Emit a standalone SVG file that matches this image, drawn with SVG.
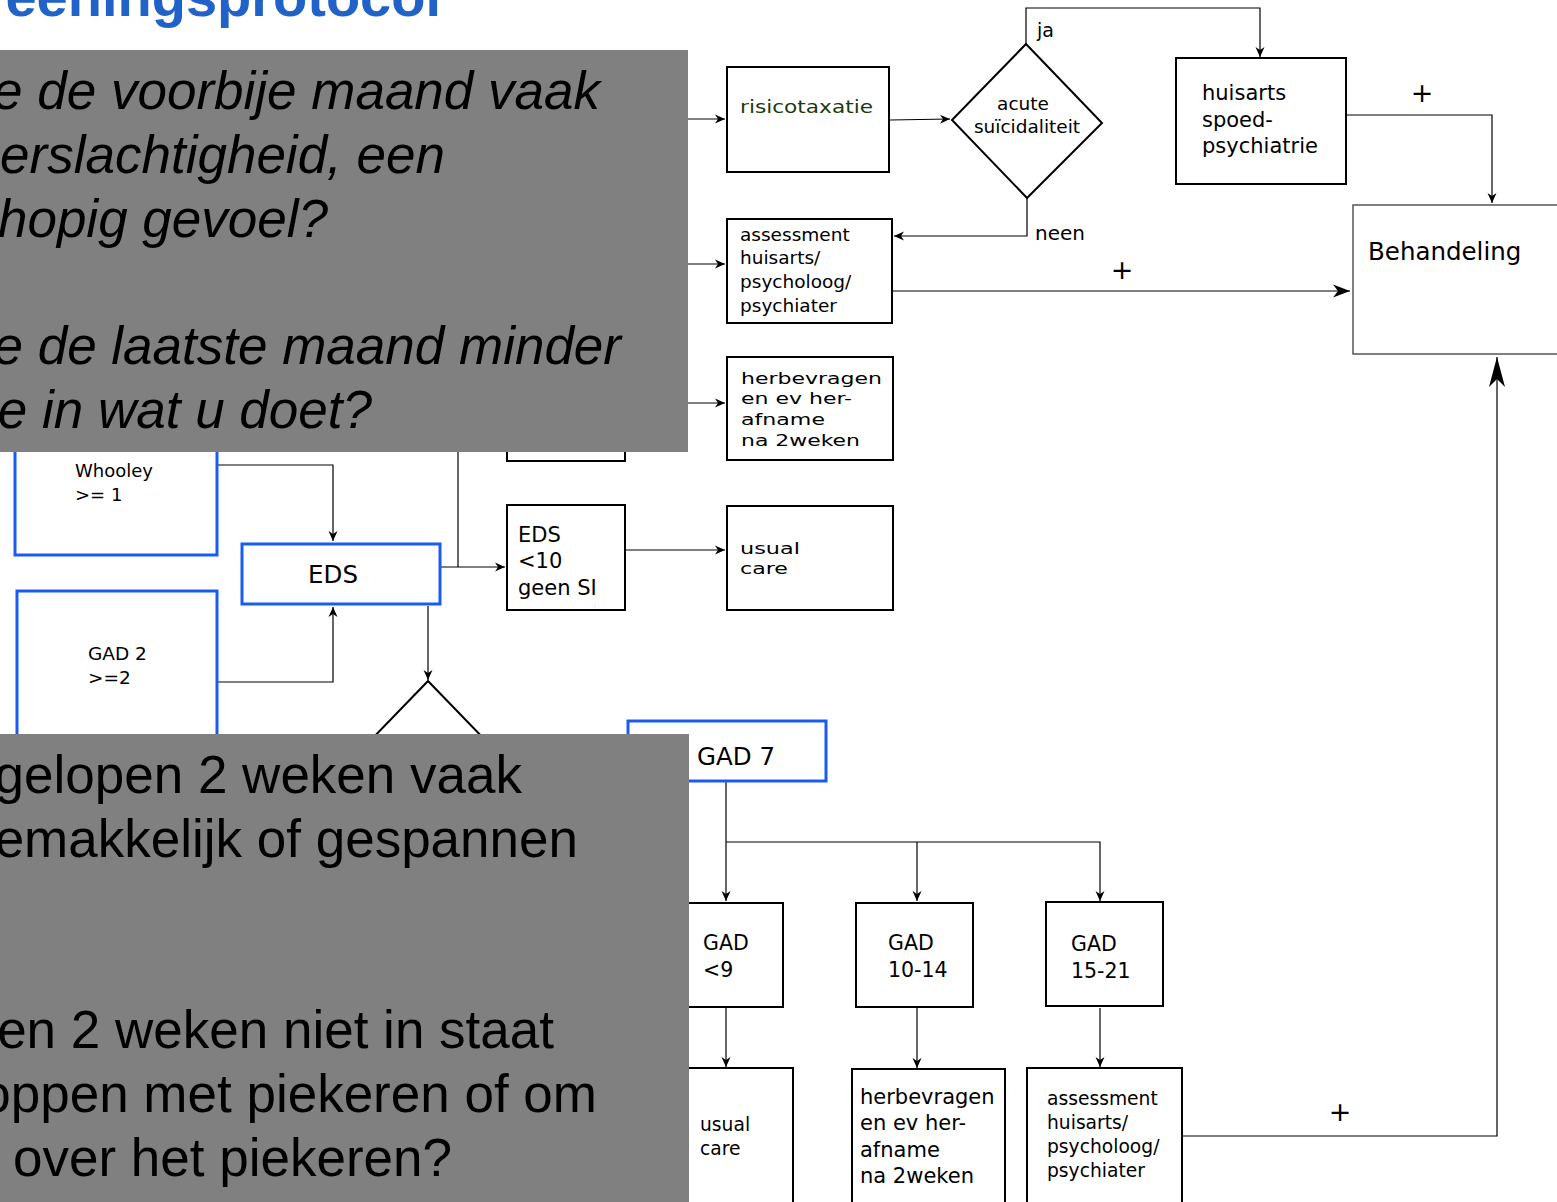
<svg xmlns="http://www.w3.org/2000/svg" width="1557" height="1202" viewBox="0 0 1557 1202">
<defs>
<style>
.box{fill:#fff;stroke:#000;stroke-width:2}
.blue{fill:#fff;stroke:#1a5cf2;stroke-width:3}
.t{font-family:"DejaVu Sans",sans-serif;fill:#000}
.c{fill:none;stroke:#000;stroke-width:1.2}
.g{fill:#808080}
.q{font-family:"Liberation Sans",Arial,sans-serif;font-size:53px;fill:#000;text-anchor:end}
.lbl{font-family:"DejaVu Sans",sans-serif;fill:#000}
</style>
<marker id="a" viewBox="-12 -6 14 12" markerWidth="14" markerHeight="12" refX="0" refY="0" orient="auto" markerUnits="userSpaceOnUse"><path d="M0,0 L-10,-4.5 L-7,0 L-10,4.5 Z" fill="#000"/></marker>
<marker id="b" viewBox="-20 -9 22 18" markerWidth="22" markerHeight="18" refX="0" refY="0" orient="auto" markerUnits="userSpaceOnUse"><path d="M0,0 L-17,-6.5 L-12,0 L-17,6.5 Z" fill="#000"/></marker>
<marker id="c" viewBox="-34 -10 36 20" markerWidth="36" markerHeight="20" refX="0" refY="0" orient="auto" markerUnits="userSpaceOnUse"><path d="M0,0 L-30,-8 L-22,0 L-30,8 Z" fill="#000"/></marker>
</defs>
<rect width="1557" height="1202" fill="#fff"/>
<text x="441" y="16" text-anchor="end" font-family="Liberation Sans, Arial, sans-serif" font-weight="bold" font-size="56" fill="#2162c8">Screeningsprotocol</text>

<g id="connectors">
<path class="c" d="M600,119 H725" marker-end="url(#a)"/>
<path class="c" d="M625,264 H725" marker-end="url(#a)"/>
<path class="c" d="M625,403 H725" marker-end="url(#a)"/>
<path class="c" d="M890,120 L950,119" marker-end="url(#a)"/>
<path class="c" d="M1026,44 V8 H1260 V57" marker-end="url(#a)"/>
<path class="c" d="M1027,198 V236 H894" marker-end="url(#a)"/>
<path class="c" d="M893,291 H1350" marker-end="url(#b)"/>
<path class="c" d="M1347,115 H1492 V203" marker-end="url(#a)"/>
<path class="c" d="M217,465 H333 V541" marker-end="url(#a)"/>
<path class="c" d="M217,682 H333 V607" marker-end="url(#a)"/>
<path class="c" d="M440,567 H505" marker-end="url(#a)"/>
<path class="c" d="M458,567 V300"/>
<path class="c" d="M625,550 H725" marker-end="url(#a)"/>
<path class="c" d="M428,606 V680" marker-end="url(#a)"/>
<path class="c" d="M726,782 V901" marker-end="url(#a)"/>
<path class="c" d="M726,842 H1100 V901" marker-end="url(#a)"/>
<path class="c" d="M917,842 V901" marker-end="url(#a)"/>
<path class="c" d="M726,1008 V1067" marker-end="url(#a)"/>
<path class="c" d="M917,1008 V1068" marker-end="url(#a)"/>
<path class="c" d="M1100,1008 V1067" marker-end="url(#a)"/>
<path class="c" d="M1183,1136 H1497 V357" stroke-width="2" marker-end="url(#c)"/>
<text class="lbl" x="1037" y="37" font-size="19">ja</text>
<text class="lbl" x="1035" y="240" font-size="20">neen</text>
<text class="lbl" x="1422" y="102" font-size="27" text-anchor="middle">+</text>
<text class="lbl" x="1122" y="279" font-size="27" text-anchor="middle">+</text>
<text class="lbl" x="1340" y="1121" font-size="27" text-anchor="middle">+</text>
</g>

<g id="n-risico">
<rect class="box" x="727" y="67" width="162" height="105"/>
<text class="t" x="740" y="113" font-size="17" style="fill:#1b3b0e" textLength="133" lengthAdjust="spacingAndGlyphs">risicotaxatie</text>
</g>
<g id="n-acute">
<polygon class="box" points="1026,44 1102,123 1027,198 952,120"/>
<text class="t" x="1023" y="110" font-size="18.5" text-anchor="middle">acute</text>
<text class="t" x="1027" y="133" font-size="18.5" text-anchor="middle">suïcidaliteit</text>
</g>
<g id="n-spoed">
<rect class="box" x="1176" y="58" width="170" height="126" stroke-width="2.5"/>
<text class="t" x="1202" y="100" font-size="21">huisarts</text>
<text class="t" x="1202" y="127" font-size="21">spoed-</text>
<text class="t" x="1202" y="153" font-size="21">psychiatrie</text>
</g>
<g id="n-behandeling">
<rect class="box" x="1353" y="205" width="220" height="149" style="stroke:#555;stroke-width:1.5"/>
<text class="t" x="1368" y="260" font-size="24.5">Behandeling</text>
</g>
<g id="n-assess1">
<rect class="box" x="727" y="219" width="165" height="104"/>
<text class="t" x="740" y="241" font-size="18.5">assessment</text>
<text class="t" x="740" y="264" font-size="18.5">huisarts/</text>
<text class="t" x="740" y="288" font-size="18.5">psycholoog/</text>
<text class="t" x="740" y="312" font-size="18.5">psychiater</text>
</g>
<g id="n-herb1">
<rect class="box" x="727" y="357" width="166" height="103"/>
<text class="t" x="741" y="384" font-size="16.5" textLength="141" lengthAdjust="spacingAndGlyphs">herbevragen</text>
<text class="t" x="741" y="404" font-size="16.5" textLength="111" lengthAdjust="spacingAndGlyphs">en ev her-</text>
<text class="t" x="741" y="425" font-size="16.5" textLength="84" lengthAdjust="spacingAndGlyphs">afname</text>
<text class="t" x="741" y="446" font-size="16.5" textLength="119" lengthAdjust="spacingAndGlyphs">na 2weken</text>
</g>
<g id="n-hidden">
<rect class="box" x="507" y="380" width="118" height="81"/>
</g>
<g id="n-whooley">
<rect class="blue" x="15" y="400" width="202" height="155"/>
<text class="t" x="75" y="477" font-size="18">Whooley</text>
<text class="t" x="75" y="501" font-size="18">&gt;= 1</text>
</g>
<g id="n-eds">
<rect class="blue" x="242" y="544" width="198" height="60"/>
<text class="t" x="333" y="583" font-size="24.5" text-anchor="middle">EDS</text>
</g>
<g id="n-gad2">
<rect class="blue" x="17" y="591" width="200" height="170"/>
<text class="t" x="88" y="660" font-size="18.5">GAD 2</text>
<text class="t" x="88" y="684" font-size="18.5">&gt;=2</text>
</g>
<g id="n-eds10">
<rect class="box" x="507" y="505" width="118" height="105"/>
<text class="t" x="518" y="542" font-size="21">EDS</text>
<text class="t" x="518" y="568" font-size="21">&lt;10</text>
<text class="t" x="518" y="595" font-size="21">geen SI</text>
</g>
<g id="n-usual1">
<rect class="box" x="727" y="506" width="166" height="104"/>
<text class="t" x="740" y="554" font-size="16.5" textLength="60" lengthAdjust="spacingAndGlyphs">usual</text>
<text class="t" x="740" y="574" font-size="16.5" textLength="48" lengthAdjust="spacingAndGlyphs">care</text>
</g>
<g id="n-decision2">
<polygon class="box" points="428,681 490,745 428,810 366,745" stroke-width="1.5"/>
</g>
<g id="n-gad7">
<rect class="blue" x="628" y="721" width="198" height="60"/>
<text class="t" x="697" y="765" font-size="24.5">GAD 7</text>
</g>
<g id="n-gad9">
<rect class="box" x="665" y="903" width="118" height="104"/>
<text class="t" x="703" y="950" font-size="20.5">GAD</text>
<text class="t" x="703" y="977" font-size="20.5">&lt;9</text>
</g>
<g id="n-gad1014">
<rect class="box" x="856" y="903" width="117" height="104"/>
<text class="t" x="888" y="950" font-size="20.5">GAD</text>
<text class="t" x="888" y="977" font-size="20.5">10-14</text>
</g>
<g id="n-gad1521">
<rect class="box" x="1046" y="902" width="117" height="104"/>
<text class="t" x="1071" y="951" font-size="20.5">GAD</text>
<text class="t" x="1071" y="978" font-size="20.5">15-21</text>
</g>
<g id="n-usual2">
<rect class="box" x="680" y="1068" width="113" height="160"/>
<text class="t" x="700" y="1131" font-size="18.7">usual</text>
<text class="t" x="700" y="1155" font-size="18.7">care</text>
</g>
<g id="n-herb2">
<rect class="box" x="852" y="1069" width="153" height="160"/>
<text class="t" x="860" y="1104" font-size="21">herbevragen</text>
<text class="t" x="860" y="1130" font-size="21">en ev her-</text>
<text class="t" x="860" y="1157" font-size="21">afname</text>
<text class="t" x="860" y="1183" font-size="21">na 2weken</text>
</g>
<g id="n-assess2">
<rect class="box" x="1027" y="1068" width="155" height="160"/>
<text class="t" x="1047" y="1105" font-size="18.7">assessment</text>
<text class="t" x="1047" y="1129" font-size="18.7">huisarts/</text>
<text class="t" x="1047" y="1153" font-size="18.7">psycholoog/</text>
<text class="t" x="1047" y="1177" font-size="18.7">psychiater</text>
</g>

<g id="overlay-top">
<rect class="g" x="0" y="50" width="688" height="402"/>
<text class="q" font-style="italic" x="600" y="109">e de voorbije maand vaak</text>
<text class="q" font-style="italic" x="445" y="173">erslachtigheid, een</text>
<text class="q" font-style="italic" x="328" y="237">hopig gevoel?</text>
<text class="q" font-style="italic" x="621" y="364">e de laatste maand minder</text>
<text class="q" font-style="italic" x="372" y="428">e in wat u doet?</text>
</g>
<g id="overlay-bottom">
<rect class="g" x="0" y="734" width="689" height="468"/>
<text class="q" x="522" y="793">gelopen 2 weken vaak</text>
<text class="q" x="578" y="857">emakkelijk of gespannen</text>
<text class="q" x="554" y="1048">en 2 weken niet in staat</text>
<text class="q" x="597" y="1112">oppen met piekeren of om</text>
<text class="q" x="452" y="1176">over het piekeren?</text>
</g>
</svg>
